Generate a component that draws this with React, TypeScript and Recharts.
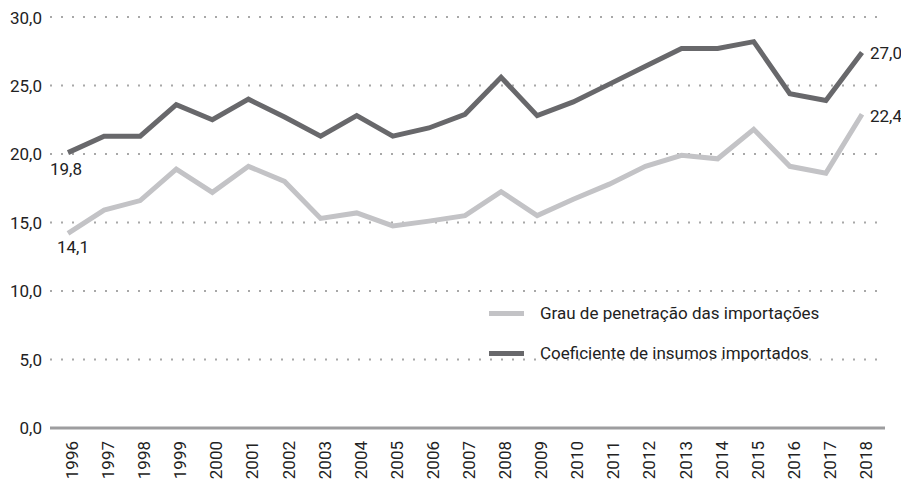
import React from "react";
import { LineChart, Line, XAxis, YAxis, CartesianGrid, LabelList } from "recharts";

const years = [
	"1996", "1997", "1998", "1999", "2000", "2001", "2002", "2003", "2004", "2005", "2006", "2007",
	"2008", "2009", "2010", "2011", "2012", "2013", "2014", "2015", "2016", "2017", "2018",
];

// Grau de penetração das importações
const penetracao = [
	14.2, 15.9, 16.6, 18.9, 17.2, 19.1, 18.0, 15.3, 15.7, 14.75, 15.1, 15.5,
	17.25, 15.5, 16.7, 17.8, 19.1, 19.9, 19.65, 21.8, 19.1, 18.6, 22.9,
];

// Coeficiente de insumos importados
const insumos = [
	20.1, 21.3, 21.3, 23.6, 22.5, 24.0, 22.7, 21.3, 22.8, 21.3, 21.9, 22.9,
	25.6, 22.8, 23.8, 25.1, 26.4, 27.7, 27.7, 28.2, 24.4, 23.9, 27.4,
];

const penetracaoLabels = ["14,1", "22,4"];
const insumosLabels = ["19,8", "27,0"];

const yTicks = [0, 5, 10, 15, 20, 25, 30];

const LIGHT = "#c3c3c6";
const DARK = "#68686b";
const FONT = "Roboto, 'Noto Sans', sans-serif";
const TEXT = "#222";

const data = years.map((year, i) => ({ year, penetracao: penetracao[i], insumos: insumos[i] }));

const fmt = (v: number) => v.toFixed(1).replace(".", ",");

function XTick({ x, y, payload }: any) {
	return (
		<text
			transform={`translate(${x + 4},${y}) rotate(-90)`}
			textAnchor="end"
			dominantBaseline="central"
			fontSize={17}
			fontFamily={FONT}
			fill={TEXT}
		>
			{payload.value}
		</text>
	);
}

function endLabel(labels: string[], first: [number, number], last: [number, number]) {
	return (props: any) => {
		const { x, y, index } = props;
		if (index === 0) {
			return (
				<text x={x + first[0]} y={y + first[1]} textAnchor="middle" dominantBaseline="central" fontSize={17} fontFamily={FONT} fill={TEXT}>
					{labels[0]}
				</text>
			);
		}
		if (index === years.length - 1) {
			return (
				<text x={x + last[0]} y={y + last[1]} textAnchor="start" dominantBaseline="central" fontSize={17} fontFamily={FONT} fill={TEXT}>
					{labels[1]}
				</text>
			);
		}
		return null;
	};
}

const legendItems = [
	{ name: "Grau de penetração das importações", color: LIGHT },
	{ name: "Coeficiente de insumos importados", color: DARK },
];

export default function App() {
	return (
		<div style={{ position: "relative", width: 901, height: 472 }}>
			<LineChart width={901} height={472} data={data} margin={{ top: 9, right: 24, bottom: 0, left: 0 }}>
				<CartesianGrid vertical={false} stroke="#a8a8a8" strokeWidth={2} strokeDasharray="2 9" />
				<XAxis
					dataKey="year"
					interval={0}
					padding={{ left: 18, right: 23 }}
					axisLine={{ stroke: "#9d9d9f", strokeWidth: 3 }}
					tickLine={false}
					tickSize={6}
					tickMargin={7}
					height={52}
					tick={<XTick />}
				/>
				<YAxis
					domain={[0, 30]}
					ticks={yTicks}
					width={42}
					axisLine={false}
					tickLine={false}
					tickFormatter={fmt}
					tick={{ fontSize: 17, fontFamily: FONT, fill: TEXT }}
				/>
				<Line
					type="linear"
					dataKey="penetracao"
					stroke={LIGHT}
					strokeWidth={5}
					dot={false}
					isAnimationActive={false}
				>
					<LabelList dataKey="penetracao" content={endLabel(penetracaoLabels, [5, 14], [8, 2])} />
				</Line>
				<Line
					type="linear"
					dataKey="insumos"
					stroke={DARK}
					strokeWidth={5}
					dot={false}
					isAnimationActive={false}
				>
					<LabelList dataKey="insumos" content={endLabel(insumosLabels, [-2, 16], [8, 0])} />
				</Line>
			</LineChart>
			<div style={{ position: "absolute", left: 481, top: 285, fontFamily: FONT, fontSize: 17, color: TEXT }}>
				{legendItems.map((it) => (
					<div key={it.name} style={{ display: "flex", alignItems: "center", height: 40 }}>
						<span style={{ display: "inline-block", width: 35, height: 5, background: it.color, marginRight: 16 }} />
						<span>{it.name}</span>
					</div>
				))}
			</div>
		</div>
	);
}
